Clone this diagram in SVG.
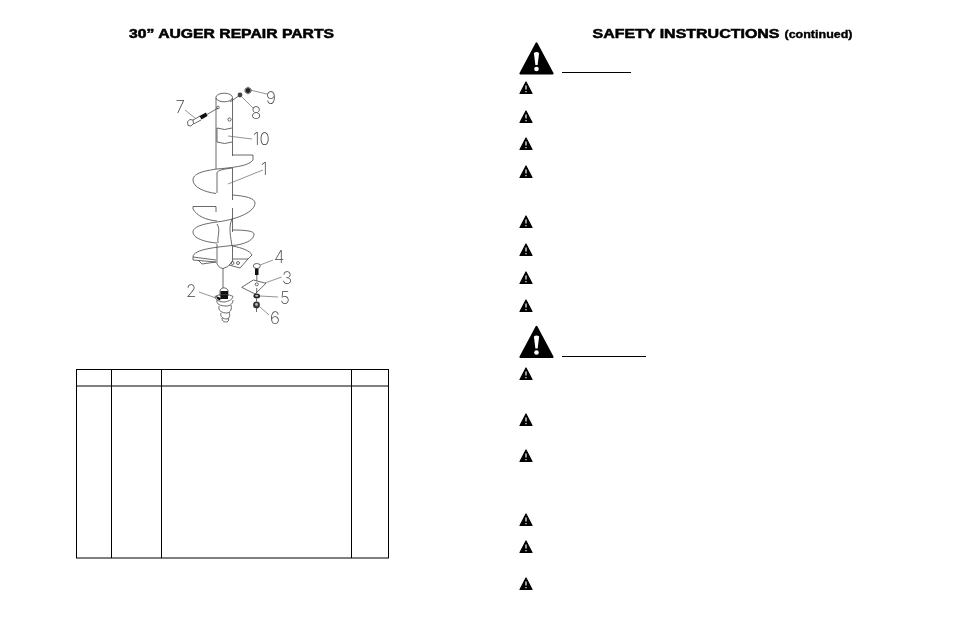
<svg xmlns="http://www.w3.org/2000/svg" width="954" height="618" viewBox="0 0 954 618">
<style>
.t{font-family:"Liberation Sans",Arial,sans-serif;font-weight:bold;fill:#000;stroke:#000;stroke-width:.55}
.n{font-family:"Inter","Liberation Sans",sans-serif;font-weight:200;font-size:17px;fill:#444}
.d{fill:none;stroke:#444;stroke-width:.8}
.l{fill:none;stroke:#666;stroke-width:.7}
.k{fill:#111;stroke:none}
.g{fill:none;stroke:#000;stroke-width:1}
</style>
<defs>
<filter id="gray" x="0" y="0" width="1" height="1" color-interpolation-filters="sRGB"><feColorMatrix type="saturate" values="0"/></filter>
<g id="sm"><path d="M0 -6L6 5.500H-6Z" fill="#000" stroke="#000" stroke-width="1.200" stroke-linejoin="round"/><path d="M0 -2.500V1.500M0 3V4.300" stroke="#fff" stroke-width="1.200" fill="none"/></g>
<g id="bg"><path d="M0 0L16 30H-16Z" fill="#000" stroke="#000" stroke-width="2.200" stroke-linejoin="round"/><path d="M-2.600 9.500Q0 7.500 2.600 9.500L1.100 21.500H-1.100Z" fill="#fff"/><circle cx="0" cy="25.500" r="2.300" fill="#fff"/></g>
</defs>
<rect width="954" height="618" fill="#fff"/>
<g id="titles" filter="url(#gray)">
<text class="t" x="129" y="38" font-size="13.500" textLength="205" lengthAdjust="spacingAndGlyphs">30” AUGER REPAIR PARTS</text>
<text class="t" x="592.500" y="38" font-size="13.500" textLength="187" lengthAdjust="spacingAndGlyphs">SAFETY INSTRUCTIONS</text>
<text class="t" x="784.500" y="38" font-size="10" textLength="68" lengthAdjust="spacingAndGlyphs" style="stroke-width:.35">(continued)</text>
</g>

<g id="auger">
<path class="d" d="M216 98V169M232.500 98V156"/>
<ellipse class="d" cx="224.200" cy="97.500" rx="8.300" ry="4.300"/>
<circle class="d" cx="218" cy="107.500" r="1.300"/><circle class="d" cx="229.500" cy="119.500" r="1.600"/>
<path class="d" d="M217 128Q224.500 131 232 128M217 128V142Q224.500 145 232 142"/>
<path class="d" d="M232.500 155H253V160C249 165 240 167 217 169C202 171 193 174 193 180C193 187 204 192 216 193.500"/>
<path class="d" d="M217 173C217 170 225 169 232.500 168M217 173V193M232.500 168V200"/>
<path class="d" d="M232.500 195C245 196 255 198 255 203C255 211 240 219 217 222C202 224 193 227 193 232C193 238 204 242 217 243"/>
<path class="d" d="M193 206.500H216V212M193 206.500V209C197 216 206 220 217 221M232.500 208V232"/>
<path class="d" d="M217 224C221 230 217 236 218 243M232 219C228 228 231 238 232 246M217 244V262M232.500 246V262"/>
<path class="d" d="M232.500 230C245 230 254 231 254 234C254 239 248 243 237 245C218 247 193 249 193 257V260L216 262"/>
<path class="d" d="M232.500 246C243 248 250 251 252 255L248 259L240 268L229 265M198 260L202 264L216 262M193 257L216 260M233 259H248"/>
<path class="d" d="M216.500 262Q218 268 223 268.500Q228 268 232 262"/>
<circle class="d" cx="232.500" cy="263" r="1.500"/><circle class="d" cx="238" cy="263" r="1.500"/>
<path class="d" d="M223 268.500V288"/>
</g>

<g id="part-7"><path class="d" d="M187.500 121.500L190 119.500L193 120L193.500 123.500L191 126L188 125.500Z"/><path class="d" d="M193 120L200 116M193.500 124L201 120"/><path class="k" d="M199.500 116L206 112.500L207.500 116L201.500 119.500Z"/><path class="d" d="M207 114.500L218 108"/></g>
<g id="part-8"><path class="d" d="M230 102L240 95"/><circle cx="240" cy="95" r="2.400" fill="#444"/></g>
<g id="part-9"><circle cx="248" cy="90.500" r="2.500" fill="#222"/><path class="d" d="M245 89L248 87L251 89V92L248 94L245 92Z"/></g>
<g id="part-2">
<path class="d" d="M220 290Q224 285.500 228 290V296H220Z"/>
<rect class="k" x="220.500" y="291" width="7.500" height="8"/>
<path class="d" d="M215 296.500C218 294 230 294 233 296.500C233 300 226 302 224 302C220 302 215 300 215 296.500Z"/>
<path class="d" d="M217 300C216 304 220 306 226 306C231 306 233 303 233 300M219 306C218 311 222 313 227 313C231 312 232 309 231 305M221 313C220 317 223 319 227 319C230 318 230 315 229 312M222 318C222 322 225 322 227 322C229 321 229 319 228 318"/>
<path class="k" d="M216 296L221 298L220 300.500L217 299Z"/>
</g>
<g id="part-4"><ellipse class="d" cx="256.800" cy="266" rx="3.500" ry="2.500"/><rect class="k" x="255" y="268.500" width="3.500" height="6.500"/><path class="d" d="M256.800 275V281"/></g>
<g id="part-3"><path class="d" d="M241.700 287.300L253.300 280L266 283.300L255 294Z"/><circle class="d" cx="256.700" cy="284.300" r="1.500"/></g>
<g id="part-5"><ellipse cx="256.700" cy="296" rx="3.400" ry="2.500" fill="#222"/><ellipse cx="256.700" cy="295.700" rx="1.600" ry="1" fill="#bbb"/><path class="d" d="M256.700 293.500V288"/></g>
<g id="part-6"><circle cx="256.500" cy="305" r="3.400" fill="#333"/><circle cx="256.500" cy="304.500" r="1.400" fill="#bbb"/><path class="d" d="M256.500 301.500V298.500M256.500 308V312"/></g>

<g id="connectors">
<path class="l" d="M185 110L195 118M241 96L253 108M250 90L267 94M228 136L252 139M228 184L263 170M199 292L216 298M273 260L260 265M265 283L281.700 277M260 296L278 297M260 307L269 315"/>
</g>
<g id="labels" filter="url(#gray)">
<text class="n" x="175.500" y="113">7</text><text class="n" x="251" y="119">8</text><text class="n" x="266" y="103.500">9</text>
<text class="n" x="253" y="145">10</text><text class="n" x="261" y="175">1</text><text class="n" x="186" y="297">2</text>
<text class="n" x="274" y="263">4</text><text class="n" x="282" y="283.500">3</text><text class="n" x="280" y="303.500">5</text><text class="n" x="270" y="323.500">6</text>
</g>

<g id="table" class="g">
<rect x="76.500" y="369.500" width="312" height="188.500"/>
<path d="M76.500 386H388.500M111.500 369.500V558M161.500 369.500V558M351.500 369.500V558"/>
</g>

<g id="warnings">
<use href="#bg" x="536.500" y="43.500"/><path d="M562 72.500H631" stroke="#000" stroke-width="1"/>
<use href="#bg" x="536.500" y="327"/><path d="M562 356.500H646" stroke="#000" stroke-width="1"/>
<use href="#sm" x="526" y="88"/><use href="#sm" x="526" y="117"/><use href="#sm" x="526" y="144"/><use href="#sm" x="526" y="172"/>
<use href="#sm" x="526" y="222"/><use href="#sm" x="526" y="250"/><use href="#sm" x="526" y="278"/><use href="#sm" x="526" y="306"/>
<use href="#sm" x="526" y="374"/><use href="#sm" x="526" y="420"/><use href="#sm" x="526" y="456"/><use href="#sm" x="526" y="520"/>
<use href="#sm" x="526" y="547"/><use href="#sm" x="526" y="584"/>
</g>
</svg>
